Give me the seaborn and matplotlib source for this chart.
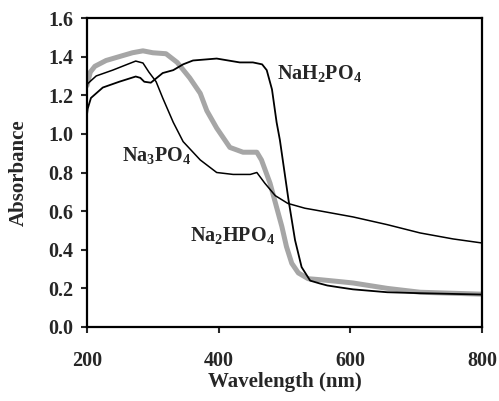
import matplotlib
matplotlib.use("Agg")
import matplotlib.pyplot as plt
import seaborn as sns
import pandas as pd

# --- data ---
wl_nah2po4 = [200, 201, 206, 224, 249, 274, 281, 287, 297, 315, 331, 346, 361, 397,
              432, 452, 466, 473, 481, 488, 493, 506, 516, 526, 539, 554, 565, 584,
              604, 656, 706, 800]
abs_nah2po4 = [1.10, 1.13, 1.186, 1.24, 1.27, 1.297, 1.29, 1.27, 1.265, 1.315, 1.33,
               1.36, 1.38, 1.39, 1.37, 1.37, 1.36, 1.33, 1.23, 1.06, 0.968, 0.66,
               0.45, 0.31, 0.24, 0.225, 0.215, 0.205, 0.195, 0.18, 0.175, 0.168]

wl_na2hpo4 = [200, 205, 212, 229, 249, 269, 285, 300, 320, 337, 356, 372, 382,
              397, 417, 437, 458, 465, 478, 488, 496, 503, 511, 521, 536, 554, 584,
              604, 656, 706, 800]
abs_na2hpo4 = [1.25, 1.32, 1.35, 1.38, 1.40, 1.42, 1.43, 1.42, 1.415, 1.37,
               1.29, 1.21, 1.12, 1.03, 0.93, 0.905, 0.905, 0.865, 0.745, 0.62, 0.52,
               0.416, 0.33, 0.28, 0.25, 0.245, 0.235, 0.228, 0.20, 0.18, 0.17]

wl_na3po4 = [200, 201, 214, 239, 259, 274, 285, 294, 305, 315, 331, 346, 372, 397,
             422, 448, 458, 470, 486, 505, 531, 546, 604, 656, 706, 756, 800]
abs_na3po4 = [1.24, 1.26, 1.30, 1.33, 1.357, 1.377, 1.367, 1.32, 1.27, 1.186, 1.06,
              0.96, 0.865, 0.80, 0.79, 0.79, 0.80, 0.745, 0.68, 0.64, 0.615, 0.606,
              0.57, 0.53, 0.487, 0.456, 0.435]

x_ticks = [200, 400, 600, 800]
y_ticks = [0.0, 0.2, 0.4, 0.6, 0.8, 1.0, 1.2, 1.4, 1.6]

df = pd.concat([
    pd.DataFrame({"Wavelength": wl_na2hpo4, "Absorbance": abs_na2hpo4, "s": "Na2HPO4"}),
    pd.DataFrame({"Wavelength": wl_nah2po4, "Absorbance": abs_nah2po4, "s": "NaH2PO4"}),
    pd.DataFrame({"Wavelength": wl_na3po4, "Absorbance": abs_na3po4, "s": "Na3PO4"}),
])

sns.set_theme(style="ticks")
plt.rcParams["font.family"] = ["Liberation Serif", "DejaVu Serif"]
plt.rcParams["font.weight"] = "bold"
plt.rcParams["mathtext.fontset"] = "custom"
plt.rcParams["mathtext.rm"] = "Liberation Serif:bold"
plt.rcParams["mathtext.bf"] = "Liberation Serif:bold"
plt.rcParams["mathtext.it"] = "Liberation Serif:bold"
plt.rcParams["mathtext.default"] = "bf"

fig = plt.figure(figsize=(4.99, 4.01), dpi=100)
ax = fig.add_axes([87 / 499, 1 - 327 / 401, (482 - 87) / 499, (327 - 18) / 401])

palette = {"Na2HPO4": "#a6a6a6", "NaH2PO4": "black", "Na3PO4": "black"}
sizes = {"Na2HPO4": 3.6, "NaH2PO4": 1.3, "Na3PO4": 1.1}
sns.lineplot(data=df, x="Wavelength", y="Absorbance", hue="s", size="s",
             palette=palette, sizes=sizes, sort=False, estimator=None,
             legend=False, ax=ax)

ax.set_xlim(200, 800)
ax.set_ylim(0, 1.6)
ax.set_xticks(x_ticks)
ax.set_xticklabels([str(t) for t in x_ticks])
ax.set_yticks(y_ticks)
ax.set_yticklabels([f"{t:.1f}" for t in y_ticks])
ax.tick_params(axis="both", direction="out", length=4, width=1.5, labelsize=14.5)
ax.tick_params(axis="x", pad=13)
ax.tick_params(axis="y", pad=6)
for lab in ax.get_xticklabels() + ax.get_yticklabels():
    lab.set_fontweight("bold")
for sp in ax.spines.values():
    sp.set_linewidth(1.6)
    sp.set_color("black")
    sp.set_visible(True)

ax.set_xlabel("Wavelength (nm)", fontsize=15, fontweight="bold", labelpad=1)
ax.set_ylabel("Absorbance", fontsize=15, fontweight="bold", labelpad=14)

ax.text(489, 1.315, r"NaH$_2$PO$_4$", fontsize=14.5, fontweight="bold",
        ha="left", va="center")
ax.text(253, 0.89, r"Na$_3$PO$_4$", fontsize=14.5, fontweight="bold",
        ha="left", va="center")
ax.text(356, 0.475, r"Na$_2$HPO$_4$", fontsize=14.5, fontweight="bold",
        ha="left", va="center")

fig.savefig("out.png", dpi=100)
